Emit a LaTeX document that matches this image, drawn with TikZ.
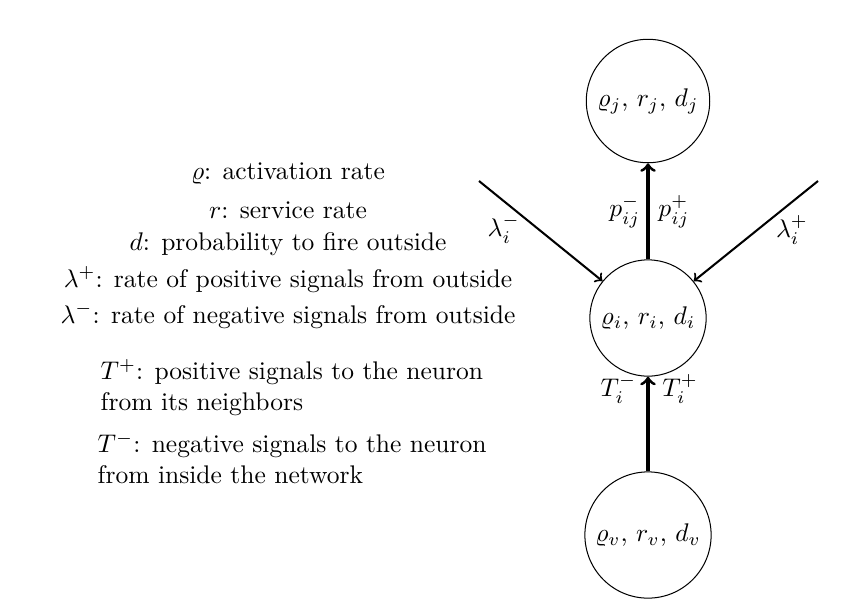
\documentclass[tikz,border=0pt]{standalone}
\usepackage{amsmath,amssymb}
\usetikzlibrary{positioning}
\usetikzlibrary{arrows}
\usetikzlibrary{calc}

\begin{document}
\begin{tikzpicture}[x=0.01378cm,y=-0.01378cm,line width=0.20mm,
  neuron/.style={draw,circle,thin,inner sep=3pt},
  signal/.style={->,thick},
  link/.style={->,very thick},
  tag/.style={inner sep=2.5pt},
  legend/.style={inner sep=0pt,anchor=base}]

  \useasboundingbox (0,0) rectangle (858,615);

  % neurons j, i and v
  \node[neuron] (j) at (648,101) {$\varrho_j$, $r_j$, $d_j$};
  \node[neuron] (i) at (648,318) {$\varrho_i$, $r_i$, $d_i$};
  \node[neuron] (v) at (648,535) {$\varrho_v$, $r_v$, $d_v$};

  % signals from outside
  \coordinate (Lm) at (479,181);
  \coordinate (Lp) at (818,181);

  \draw[signal] (Lm) -- node[tag, pos=0.2, below, inner sep=5pt] (lm) {$\lambda_i^-$} (i);
  \draw[signal] (Lp) -- node[tag, pos=0.21, below, inner sep=5pt] (lp) {$\lambda_i^+$} (i);

  % signals inside the network
  \draw[link] (i) -- node[tag, left] (pm) {$p_{ij}^-$}
                     node[tag, right, inner sep=3.5pt] (pp) {$p_{ij}^+$} (j);
  \draw[link] (v) -- node[tag, pos=0.87, left, inner sep=4pt] (tm) {$T_i^-$}
                     node[tag, pos=0.87, right, inner sep=5pt] (tp) {$T_i^+$} (i);

  % legend
  \node[legend] (rho) at (288,179) {$\varrho$: activation rate};
  \node[legend] (r)   at (288,218) {$r$: service rate};
  \node[legend] (d)   at (288,250) {$d$: probability to fire outside};
  \node[legend] (lap) at (288,287) {$\lambda^+$: rate of positive signals from outside};
  \node[legend] (lam) at (288,323) {$\lambda^-$: rate of negative signals from outside};

  % the base of a two line node is its last line
  \node[legend, anchor=base west, align=left] (Tp) at (100,410)
    {$T^+$: positive signals to the neuron\\ from its neighbors};
  \node[legend, anchor=base west, align=left] (Tm) at (97,483)
    {$T^-$: negative signals to the neuron\\ from inside the network};

\end{tikzpicture}
\end{document}
